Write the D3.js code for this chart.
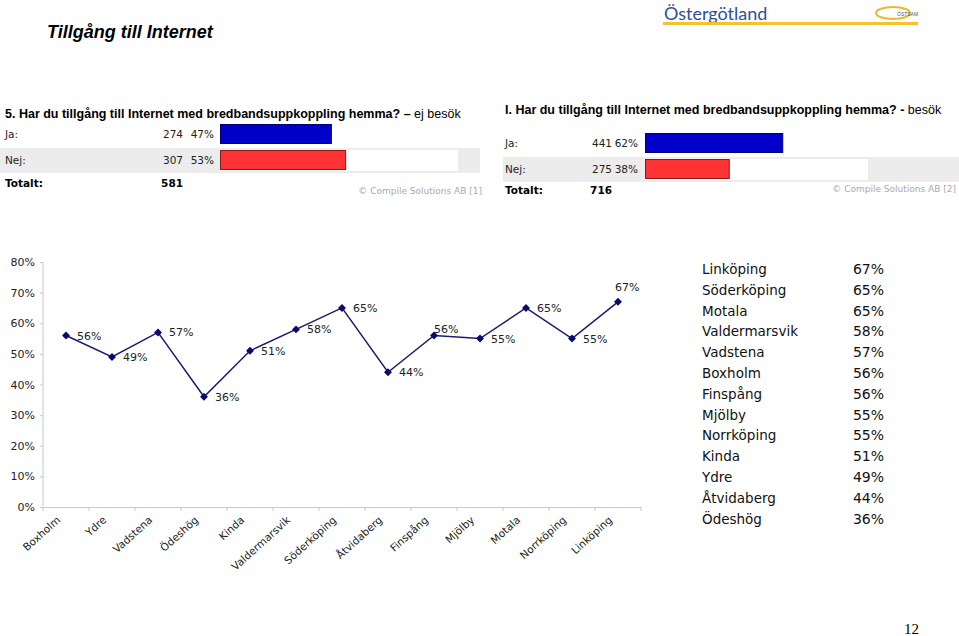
<!DOCTYPE html>
<html><head><meta charset="utf-8">
<script src="https://cdn.jsdelivr.net/npm/d3@7"></script>
<style>body{margin:0;background:#fff}svg{display:block}</style>
</head><body>
<script>
const categories = ["Boxholm","Ydre","Vadstena","Ödeshög","Kinda","Valdermarsvik","Söderköping","Åtvidaberg","Finspång","Mjölby","Motala","Norrköping","Linköping"];
const values = [56,49,57,36,51,58,65,44,56,55,65,55,67];
const yTicks = [0,10,20,30,40,50,60,70,80];
const panel1Labels = ["Ja:","Nej:"];
const panel1Counts = [274,307];
const panel1Pcts = [47,53];
const panel1Total = 581;
const panel2Labels = ["Ja:","Nej:"];
const panel2Counts = [441,275];
const panel2Pcts = [62,38];
const panel2Total = 716;

const W=959,H=636;
const svg=d3.select("body").append("svg").attr("width",W).attr("height",H);
const arial="Liberation Sans, Arial, sans-serif";
const verd="DejaVu Sans, Verdana, sans-serif";
const gothic="DejaVu Sans, sans-serif";

// Title
svg.append("text").attr("x",47).attr("y",38).attr("font-family",arial).attr("font-size",18)
  .attr("font-weight","bold").attr("font-style","italic").text("Tillgång till Internet");

// Logo
svg.append("text").attr("x",664).attr("y",20).attr("font-family","Lato, sans-serif").attr("font-size",18)
  .attr("fill","#2f4f9a").text("Östergötland");
svg.append("rect").attr("x",663).attr("y",22).attr("width",255).attr("height",3).attr("fill","#f2c230");
svg.append("ellipse").attr("cx",893).attr("cy",13).attr("rx",17).attr("ry",6).attr("fill","none").attr("stroke","#e8b830").attr("stroke-width",2);
svg.append("text").attr("x",897).attr("y",16).attr("font-family",arial).attr("font-size",5).attr("fill","#555").text("ÖSTSAM");

// Panels
function panel(x0,headY,bold,light,labels,counts,pcts,total,cfg){
  const t=svg.append("text").attr("x",x0+5).attr("y",headY).attr("font-family",arial).attr("font-size",12.5);
  t.append("tspan").attr("font-weight","bold").text(bold);
  t.append("tspan").text(light);
  const xs=d3.scaleLinear().domain([0,100]).range([cfg.barX,cfg.barX+cfg.track]);
  labels.forEach((l,i)=>{
    const ry=cfg.rowY[i];
    if(i===1){
      svg.append("rect").attr("x",cfg.bgX).attr("y",ry-12).attr("width",cfg.bgW).attr("height",25).attr("fill","#ececec");
      svg.append("rect").attr("x",cfg.barX).attr("y",ry-10).attr("width",cfg.track).attr("height",21).attr("fill","#fff");
    }
    svg.append("text").attr("x",x0+5).attr("y",ry+4).attr("font-family",verd).attr("font-size",10.5).attr("fill","#222").text(l);
    svg.append("text").attr("x",cfg.cntX).attr("y",ry+4).attr("text-anchor","end").attr("font-family",verd).attr("font-size",10.5).attr("fill","#222").text(counts[i]);
    svg.append("text").attr("x",cfg.pctX).attr("y",ry+4).attr("text-anchor","end").attr("font-family",verd).attr("font-size",10.5).attr("fill","#222").text(pcts[i]+"%");
    svg.append("rect").attr("x",cfg.barX+0.5).attr("y",ry-9.5).attr("width",xs(pcts[i])-cfg.barX-1).attr("height",19)
      .attr("fill",i===0?"#0000c8":"#ff3333").attr("stroke",i===0?"#00007a":"#8a1a1a").attr("stroke-width",1);
  });
  svg.append("text").attr("x",x0+5).attr("y",cfg.totY).attr("font-family",verd).attr("font-size",10.5).attr("font-weight","bold").text("Totalt:");
  svg.append("text").attr("x",cfg.cntX).attr("y",cfg.totY).attr("text-anchor","end").attr("font-family",verd).attr("font-size",10.5).attr("font-weight","bold").text(total);
  svg.append("text").attr("x",cfg.copyX).attr("y",cfg.copyY).attr("text-anchor","end").attr("font-family",verd).attr("font-size",9).attr("fill","#aaa").text(cfg.copy);
}
panel(0,118,"5. Har du tillgång till Internet med bredbandsuppkoppling hemma? – ","ej besök",
  panel1Labels,panel1Counts,panel1Pcts,panel1Total,
  {rowY:[134,160],barX:220,track:238,bgX:0,bgW:480,cntX:183,pctX:214,totY:187,copyX:482,copyY:194,copy:"© Compile Solutions AB [1]"});
panel(500,114,"I. Har du tillgång till Internet med bredbandsuppkoppling hemma? - ","besök",
  panel2Labels,panel2Counts,panel2Pcts,panel2Total,
  {rowY:[143,169],barX:645,track:223,bgX:503,bgW:456,cntX:612,pctX:638,totY:194,copyX:956,copyY:192,copy:"© Compile Solutions AB [2]"});

// Line chart
const x=d3.scaleBand().domain(categories).range([43,641]);
const y=d3.scaleLinear().domain([0,80]).range([507,262]);
const g=svg.append("g");
const ya=g.append("g").attr("transform","translate(43,0)")
  .call(d3.axisLeft(y).tickValues(yTicks).tickFormat(d=>d+"%").tickSize(3));
ya.select(".domain").attr("stroke","#c8c8c8").attr("d","M0,262V507");
ya.selectAll(".tick line").attr("stroke","#c8c8c8");
ya.selectAll("text").attr("font-family",gothic).attr("font-size",11).attr("fill","#222").attr("dx",-2);
const xa=g.append("g").attr("transform","translate(0,507)")
  .call(d3.axisBottom(x).tickSize(0).tickFormat(""));
xa.select(".domain").attr("stroke","#c8c8c8");
const tickPos=categories.map(c=>x(c)).concat([x.range()[1]]);
xa.selectAll(".sep").data(tickPos).enter().append("line").attr("class","sep")
  .attr("x1",d=>d).attr("x2",d=>d).attr("y1",0).attr("y2",4).attr("stroke","#c8c8c8");
g.selectAll(".xl").data(categories).enter().append("text")
  .attr("transform",d=>`translate(${x(d)+x.bandwidth()/2-5},${521}) rotate(-42)`)
  .attr("text-anchor","end").attr("font-family",gothic).attr("font-size",10.5).attr("fill","#222").text(d=>d);

const pts=categories.map((c,i)=>({c,v:values[i],x:x(c)+x.bandwidth()/2,y:y(values[i])}));
g.append("path").datum(pts).attr("fill","none").attr("stroke","#1a1a70").attr("stroke-width",1.5)
  .attr("d",d3.line().x(d=>d.x).y(d=>d.y));
g.selectAll(".pt").data(pts).enter().append("path")
  .attr("transform",d=>`translate(${d.x},${d.y})`)
  .attr("d",d3.symbol(d3.symbolDiamond2,40)).attr("fill","#0a0a6e");
g.selectAll(".lb").data(pts).enter().append("text")
  .attr("x",(d,i)=>i===12?d.x-3:i===8?d.x:d.x+11)
  .attr("y",(d,i)=>i===12?d.y-11:i===8?d.y-3:d.y+4)
  .attr("font-family",gothic).attr("font-size",11).attr("fill","#222").text(d=>d.v+"%");

// Sorted table
const sorted=pts.slice().sort((a,b)=>b.v-a.v);
const tbl=svg.append("g");
sorted.forEach((d,i)=>{
  const ty=274+i*20.8;
  tbl.append("text").attr("x",702).attr("y",ty).attr("font-family",gothic).attr("font-size",13.5).attr("fill","#111").text(d.c);
  tbl.append("text").attr("x",884).attr("y",ty).attr("text-anchor","end").attr("font-family",gothic).attr("font-size",14).attr("fill","#111").text(d.v+"%");
});

svg.append("text").attr("x",919).attr("y",634).attr("text-anchor","end").attr("font-family","Liberation Serif, serif").attr("font-size",15).text("12");
</script>
</body></html>
